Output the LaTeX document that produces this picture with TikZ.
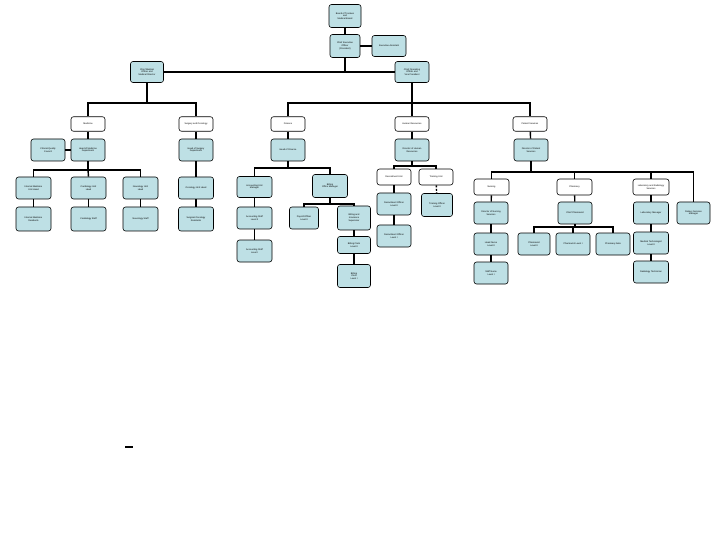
\documentclass[tikz,border=0pt]{standalone}
\usepackage{fontspec}
\setmainfont{Liberation Sans}
\definecolor{boxcyan}{RGB}{190,224,229}
\begin{document}
\begin{tikzpicture}[x=1pt,y=-1pt,
  cbox/.style={draw=black, fill=boxcyan, rounded corners=2.5pt, line width=0.6pt,
    minimum width=34pt, minimum height=22pt, align=center, inner sep=0.8pt,
    font=\fontsize{2.3}{2.8}\selectfont},
  wbox/.style={cbox, fill=white, minimum height=14.5pt},
  conn/.style={draw=black, line width=1.4pt},
  thickconn/.style={draw=black, line width=2.6pt}]
\useasboundingbox (0,0) rectangle (720,540);
\fill[white] (0,0) rectangle (720,540);

% top
\node[cbox, minimum width=32pt, minimum height=23pt] (n0) at (345,16) {Board of Trustees\\ and\\ Medical Board};
\node[cbox, minimum width=30pt, minimum height=23pt] (n1) at (345,46) {Chief Executive\\ Officer\\ (President)};
\node[cbox, minimum width=34pt, minimum height=21pt] (ea) at (389,46) {Executive Assistant};
\node[cbox, minimum width=33pt, minimum height=21pt] (L) at (147,72) {Chief Medical\\ Officer and\\ Medical Director};
\node[cbox, minimum width=34pt, minimum height=21pt] (R) at (412,72) {Chief Operating\\ Officer and\\ Vice President};
\coordinate (thk) at (255,72);

% level 2
\node[wbox] (wA) at (88,124) {Medicine};
\node[wbox] (wB) at (196,124) {Surgery and Oncology};
\node[wbox] (wC) at (288,124) {Finance};
\node[wbox] (wD) at (412,124) {Human Resources};
\node[wbox] (wE) at (530,124) {Patient Services};
\node[cbox] (cS) at (48,150) {Clinical Quality\\ Council};
\node[cbox] (cA) at (88,150) {Head of Medicine\\ Department};
\node[cbox] (cB) at (196,150) {Head of Surgery\\ Department};
\node[cbox] (cC) at (288,150) {Head of Finance};
\node[cbox] (cD) at (412,150) {Director of Human\\ Resources};
\node[cbox] (cE) at (531,150) {Director of Patient\\ Services};
\coordinate (busL) at (147,103);
\coordinate (busR) at (412,103);

% left subtree
\node[cbox, minimum width=35pt] (a1) at (33.5,188) {Internal Medicine\\ Unit Head};
\node[cbox, minimum width=35pt] (a2) at (88.5,188) {Cardiology Unit\\ Head};
\node[cbox, minimum width=35pt] (a3) at (140.5,188) {Neurology Unit\\ Head};
\node[cbox, minimum width=35pt, minimum height=24pt] (a1b) at (33.5,219) {Internal Medicine\\ Residents};
\node[cbox, minimum width=35pt, minimum height=24pt] (a2b) at (88.5,219) {Cardiology Staff};
\node[cbox, minimum width=35pt, minimum height=24pt] (a3b) at (140.5,219) {Neurology Staff};
\node[cbox, minimum width=35pt] (b1) at (196,188) {Oncology Unit Head};
\node[cbox, minimum width=35pt, minimum height=24pt] (b1b) at (196,219) {Surgical Oncology\\ Residents};
\coordinate (busA) at (88,170);

% finance subtree
\node[cbox, minimum width=35pt, minimum height=21pt] (c1) at (254.5,187) {Accounting Unit\\ Manager};
\node[cbox, minimum width=35pt, minimum height=23pt] (c2) at (330,186) {Billing\\ Office Manager};
\node[cbox, minimum width=35pt] (c1b) at (254.5,218) {Accounting Staff\\ Level II};
\node[cbox, minimum width=35pt] (c1c) at (254.5,251) {Accounting Staff\\ Level I};
\node[cbox, minimum width=29pt] (c21) at (304,218) {Payroll Officer\\ Level II};
\node[cbox, minimum width=33pt, minimum height=24pt] (c22) at (354,218) {Billing and\\ Insurance\\ Supervisor};
\node[cbox, minimum width=33pt, minimum height=17pt] (c22b) at (354,245) {Billing Clerk\\ Level II};
\node[cbox, minimum width=33pt, minimum height=23pt] (c22c) at (354,276) {Billing\\ Clerk\\ Level I};
\coordinate (busC) at (288,168);
\coordinate (busC2) at (330,204);

% HR subtree
\node[wbox, minimum width=34pt, minimum height=16pt] (d1w) at (394,177) {Recruitment Unit};
\node[wbox, minimum width=34pt, minimum height=16pt] (d2w) at (436,177) {Training Unit};
\node[cbox] (d1) at (394,204) {Recruitment Officer\\ Level II};
\node[cbox] (d1b) at (394,236) {Recruitment Officer\\ Level I};
\node[cbox, minimum width=31pt, minimum height=23pt] (d2) at (437,205) {Training Officer\\ Level II};
\coordinate (busD) at (412,166);

% patient services subtree
\node[wbox, minimum width=35pt, minimum height=16pt] (e1w) at (491.5,187) {Nursing};
\node[wbox, minimum width=35pt, minimum height=16pt] (e2w) at (574.5,187) {Pharmacy};
\node[wbox, minimum width=36pt, minimum height=16pt] (e3w) at (651,187) {Laboratory and Radiology\\ Services};
\node[cbox, minimum width=33pt] (e4) at (693.5,213) {Dietary Services\\ Manager};
\node[cbox] (e1) at (491,213) {Director of Nursing\\ Services};
\node[cbox] (e1b) at (491,244) {Head Nurse\\ Level II};
\node[cbox] (e1c) at (491,273) {Staff Nurse\\ Level I};
\node[cbox] (e2) at (575,213) {Chief Pharmacist};
\node[cbox, minimum width=32pt] (e21) at (534,244) {Pharmacist\\ Level II};
\node[cbox, minimum width=34pt] (e22) at (573,244) {Pharmacist Level I};
\node[cbox, minimum width=34pt] (e23) at (613,244) {Pharmacy Aide};
\node[cbox, minimum width=35pt] (e3) at (651,213) {Laboratory Manager};
\node[cbox, minimum width=35pt] (e3b) at (651,243) {Medical Technologist\\ Level II};
\node[cbox, minimum width=35pt] (e3c) at (651,272) {Radiology Technician};
\coordinate (busE) at (531,172);
\coordinate (busE2) at (575,227);

% stray mark
\coordinate (m1) at (125,447);
\coordinate (m2) at (133,447);

% connectors
\begin{scope}[on background layer/.style={}]
\draw[conn] (n0) -- (n1);
\draw[conn] (n1) -- (ea);
\draw[conn] (L.east) -- (R.west);
\draw[thickconn] (L.east) -- (thk);
\draw[conn] (n1.south) -- (n1.south |- L.east);
\draw[conn] (L.south) -- (busL);
\draw[conn] (wA.north) |- (busL) -| (wB.north);
\draw[conn] (R.south) -- (busR);
\draw[conn] (wC.north) |- (busR) -| (wE.north);
\draw[conn] (busR) -- (wD.north);
\foreach \w/\c in {wA/cA,wB/cB,wC/cC,wD/cD,wE/cE} \draw[conn] (\w) -- (\c);
\draw[conn] (cS) -- (cA);
% left
\draw[conn] (cA.south) -- (busA);
\draw[conn] (a1.north) |- (busA) -| (a3.north);
\draw[conn] (busA) -- (a2.north);
\draw[conn] (a1) -- (a1b); \draw[conn] (a2) -- (a2b); \draw[conn] (a3) -- (a3b);
\draw[conn] (cB) -- (b1); \draw[conn] (b1) -- (b1b);
% finance
\draw[conn] (cC.south) -- (busC);
\draw[conn] (c1.north) |- (busC) -| (c2.north);
\draw[conn] (c1) -- (c1b); \draw[conn] (c1b) -- (c1c);
\draw[conn] (c2.south) -- (busC2);
\draw[conn] (c21.north) |- (busC2) -| (c22.north);
\draw[conn] (c22) -- (c22b); \draw[conn] (c22b) -- (c22c);
% HR
\draw[conn] (cD.south) -- (busD);
\draw[conn] (d1w.north) |- (busD) -| (d2w.north);
\draw[conn] (d1w) -- (d1); \draw[conn] (d1) -- (d1b);
\draw[conn, dashed, dash pattern=on 2pt off 1.5pt] (d2w) -- (d2);
% patient services
\draw[conn] (cE.south) -- (busE);
\draw[conn] (e1w.north) |- (busE) -| (e4.north);
\draw[conn] (busE -| e2w.north) -- (e2w.north);
\draw[conn] (busE -| e3w.north) -- (e3w.north);
\draw[conn] (e1w) -- (e1); \draw[conn] (e1) -- (e1b); \draw[conn] (e1b) -- (e1c);
\draw[conn] (e2w) -- (e2);
\draw[conn] (e2.south) -- (busE2);
\draw[conn] (e21.north) |- (busE2) -| (e23.north);
\draw[conn] (busE2 -| e22.north) -- (e22.north);
\draw[conn] (e3w) -- (e3); \draw[conn] (e3) -- (e3b); \draw[conn] (e3b) -- (e3c);
\draw[thickconn, line width=1.6pt] (m1) -- (m2);
\end{scope}
\end{tikzpicture}
\end{document}
